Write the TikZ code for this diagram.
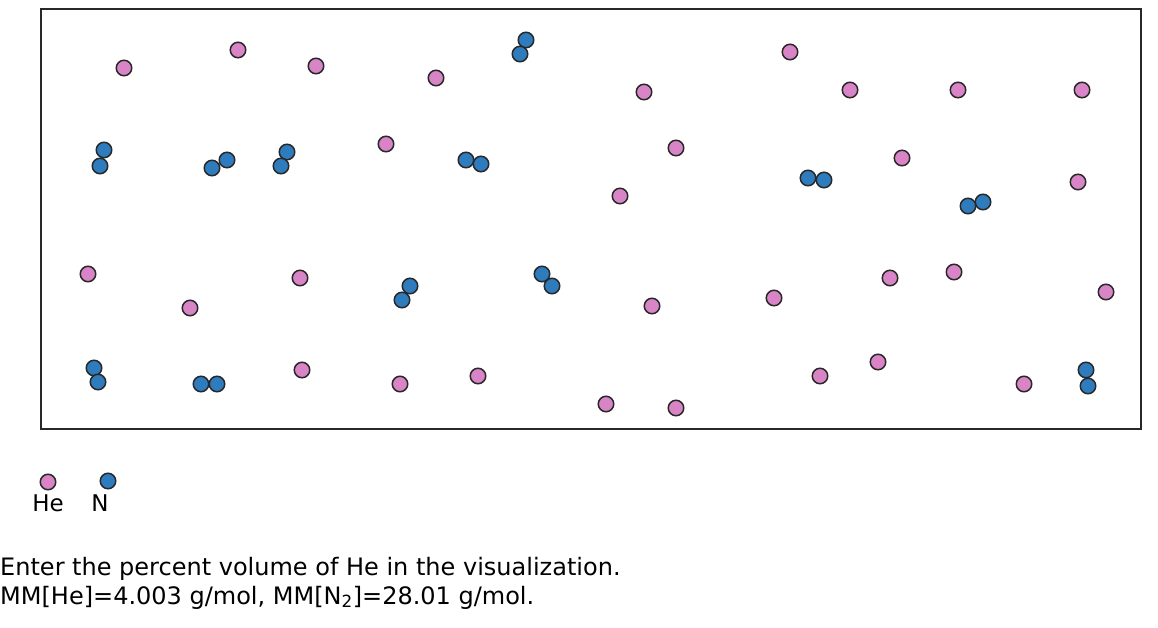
\documentclass[tikz,border=0pt]{standalone}
\usepackage{fontspec}
\setmainfont{DejaVu Sans}
\definecolor{hecol}{RGB}{218,132,200}
\definecolor{ncol}{RGB}{46,124,190}
\definecolor{rim}{RGB}{40,40,40}
\tikzset{
  he/.style={circle, draw=rim, line width=1.5pt, fill=hecol, minimum size=15.5pt, inner sep=0pt},
  nat/.style={circle, draw=rim, line width=1.5pt, fill=ncol, minimum size=15.5pt, inner sep=0pt},
  lbl/.style={anchor=base west, inner sep=0pt, font=\fontsize{24}{28}\selectfont},
  keylbl/.style={anchor=base, inner sep=0pt, font=\fontsize{23}{27}\selectfont}
}
\begin{document}
\begin{tikzpicture}[x=1pt,y=-1pt]
\useasboundingbox (0,0) rectangle (1158,628); % page
\draw[draw=rim, line width=1.6pt] (41,9) rectangle (1141,429); % container

% helium atoms
\foreach \px/\py [count=\i] in {124/68, 238/50, 316/66, 436/78, 644/92, 790/52, 850/90, 958/90, 1082/90,
  386/144, 676/148, 620/196, 902/158, 1078/182,
  88/274, 190/308, 300/278, 652/306, 774/298, 890/278, 954/272, 1106/292,
  302/370, 400/384, 478/376, 606/404, 676/408, 820/376, 878/362, 1024/384}
  \node[he] (he\i) at (\px,\py) {};

% nitrogen molecules
\foreach \ax/\ay/\bx/\by [count=\i] in {526/40/520/54, 104/150/100/166, 227/160/212/168, 287/152/281/166,
  466/160/481/164, 808/178/824/180, 983/202/968/206, 410/286/402/300, 542/274/552/286,
  94/368/98/382, 201/384/217/384, 1086/370/1088/386}
{
  \node[nat] (na\i) at (\ax,\ay) {};
  \node[nat] (nb\i) at (\bx,\by) {};
}

% legend
\node[he] (keyhe) at (48,482) {};
\node[nat] (keyn) at (108,481) {};
\node[keylbl] (keyhetxt) at (48,511) {He}; % He label
\node[keylbl] (keyntxt) at (100,511) {N}; % N label

% question
\node[lbl] (ask) at (0,575) {Enter the percent volume of He in the visualization.};
\node[lbl] (masses) at (0,604) {MM[He]=4.003 g/mol, MM[N\textsubscript{2}]=28.01 g/mol.};
\end{tikzpicture}
\end{document}
